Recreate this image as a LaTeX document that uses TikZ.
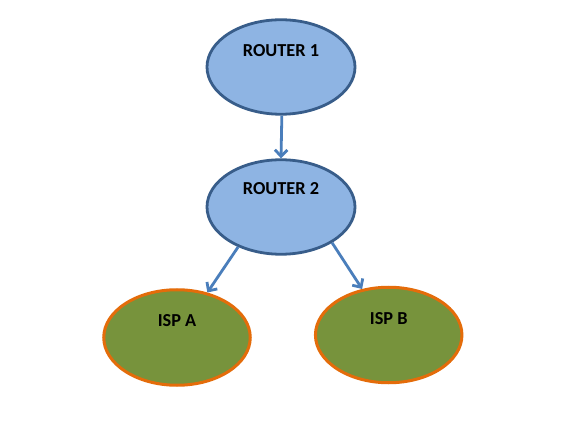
\documentclass[tikz,border=0pt]{standalone}
\usepackage{fontspec}
\setmainfont{Carlito}
\usetikzlibrary{shapes.geometric,arrows.meta}
\definecolor{rfill}{RGB}{142,180,227}
\definecolor{rline}{RGB}{56,93,138}
\definecolor{afill}{RGB}{74,126,187}
\definecolor{gfill}{RGB}{119,147,60}
\definecolor{oline}{RGB}{228,108,10}
\tikzset{
  router/.style={ellipse, draw=rline, fill=rfill, line width=2.8pt, inner sep=0pt, minimum width=148pt, minimum height=94.5pt},
  isp/.style={ellipse, draw=oline, fill=gfill, line width=3pt, inner sep=0pt, minimum width=146.5pt, minimum height=95.5pt},
  lbl/.style={font=\fontsize{18.3pt}{21pt}\selectfont\bfseries, text=black},
  conn/.style={draw=afill, line width=2.8pt, -{Straight Barb[length=6.5pt,width=12.5pt]}}
}
\begin{document}
\begin{tikzpicture}[x=1pt,y=-1pt]
\useasboundingbox[fill=white] (0,0) rectangle (583,427);
\node[router, label={[lbl,yshift=16pt]center:ROUTER 1}] (r1) at (281,67) {};
\node[router, label={[lbl,yshift=18pt]center:ROUTER 2}] (r2) at (281,207) {};
\node[isp, label={[lbl,yshift=16.5pt]center:ISP A}] (ispa) at (177,337.5) {};
\node[isp, label={[lbl,yshift=16.5pt]center:ISP B}] (ispb) at (388.7,335) {};
\draw[conn] (r1.271) -- (r2.90);
\draw[conn] (r2.223.6) -- (ispa.56);
\draw[conn] (r2.325) -- (ispb.120);
\end{tikzpicture}
\end{document}
